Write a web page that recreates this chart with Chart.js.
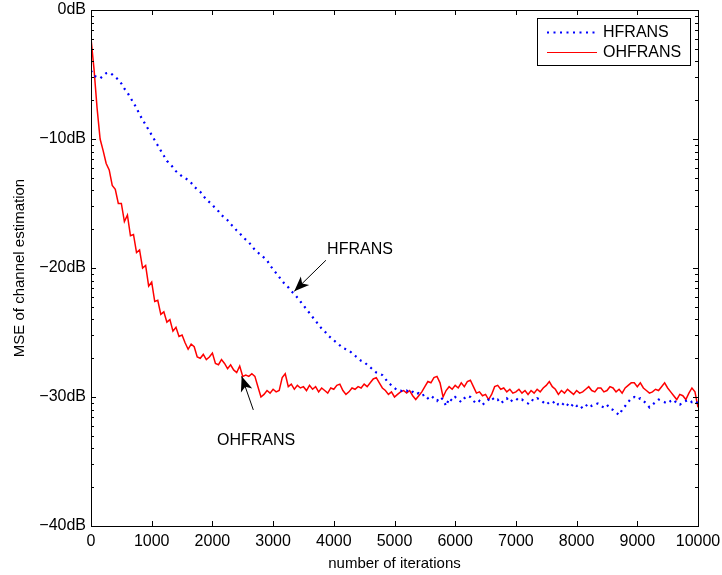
<!DOCTYPE html>
<html>
<head>
<meta charset="utf-8">
<script src="https://cdn.jsdelivr.net/npm/chart.js@4.4.0/dist/chart.umd.min.js"></script>
<style>
  html, body { margin: 0; padding: 0; background: #fff; }
  #wrap { width: 722px; height: 575px; }
</style>
</head>
<body>
<div id="wrap"><canvas id="myChart" width="722" height="575"></canvas></div>
<script>
// iterations (step 50), both curves share them
const iteracoes = [];
for (let i = 0; i <= 10000; i += 50) iteracoes.push(i);

// MSE in dB
const hfrans = [
  -4.7, -5.1, -5.2, -5.3, -5.1, -4.9, -4.85, -5.0, -5.2, -5.4,
  -5.7, -6.1, -6.4, -6.8, -7.2, -7.6, -8.1, -8.5, -8.9, -9.3,
  -9.7, -10.1, -10.5, -10.9, -11.3, -11.7, -11.9, -12.2, -12.5, -12.7,
  -12.9, -13.0, -13.2, -13.4, -13.7, -13.9, -14.1, -14.4, -14.7, -14.9,
  -15.1, -15.4, -15.6, -15.9, -16.1, -16.3, -16.6, -16.8, -17.1, -17.3,
  -17.6, -17.8, -18.0, -18.3, -18.6, -18.8, -19.0, -19.2, -19.4, -19.8,
  -20.1, -20.4, -20.7, -21.0, -21.3, -21.5, -21.8, -22.0, -22.3, -22.6,
  -22.9, -23.2, -23.5, -23.8, -24.1, -24.4, -24.7, -24.9, -25.2, -25.4,
  -25.6, -25.8, -26.0, -26.2, -26.3, -26.4, -26.6, -26.8, -27.0, -27.2,
  -27.3, -27.5, -27.7, -27.9, -28.1, -28.2, -28.3, -28.6, -28.9, -29.1,
  -29.3, -29.5, -29.5, -29.6, -29.5, -29.7, -29.6, -29.8, -29.7, -29.9,
  -29.8, -30.1, -29.9, -30.1, -30.3, -30.0, -30.2, -30.7, -30.1, -30.3,
  -30.0, -30.2, -30.4, -30.1, -29.9, -30.0, -30.3, -30.5, -30.3, -30.6,
  -30.4, -30.2, -30.0, -30.3, -30.2, -30.5, -30.3, -30.1, -30.4, -30.2,
  -30.1, -30.3, -30.2, -30.4, -30.5, -30.2, -30.3, -30.1, -30.2, -30.4,
  -30.6, -30.4, -30.5, -30.3, -30.6, -30.7, -30.4, -30.6, -30.8, -30.5,
  -30.7, -30.6, -30.9, -30.7, -30.5, -30.7, -30.6, -30.5, -30.7, -30.8,
  -30.6, -30.9, -31.0, -31.2, -31.4, -31.0, -30.7, -30.4, -30.1, -30.0,
  -30.2, -30.1, -30.3, -30.5, -30.8, -30.6, -30.4, -30.2, -30.3, -30.4,
  -30.5, -30.3, -30.2, -30.5, -30.6, -30.4, -30.3, -30.2, -30.4, -30.3,
  -30.5
];

const ohfrans = [
  -2.2, -4.6, -7.6, -10.0, -10.9, -11.9, -12.4, -13.6, -13.9, -15.0,
  -15.0, -16.4, -15.9, -17.5, -17.4, -18.8, -18.6, -20.0, -19.8, -21.4,
  -21.1, -22.6, -22.5, -23.6, -23.4, -24.2, -24.0, -24.9, -24.6, -25.3,
  -25.2, -25.8, -26.3, -25.9, -26.1, -26.9, -27.0, -26.7, -27.1, -26.9,
  -26.6, -27.4, -27.5, -27.1, -27.4, -27.8, -27.5, -27.9, -28.1, -27.6,
  -28.4, -28.3, -28.4, -28.2, -28.4, -29.2, -30.0, -29.8, -29.5, -29.7,
  -29.4, -29.6, -29.5, -28.5, -28.2, -29.2, -29.0, -29.4, -29.1, -29.3,
  -29.2, -29.5, -29.1, -29.4, -29.2, -29.6, -29.3, -29.5, -29.7, -29.3,
  -29.4, -29.1, -29.0, -29.5, -29.8, -29.6, -29.3, -29.4, -29.2, -29.3,
  -29.0, -29.2, -28.9, -28.6, -28.5, -28.9, -29.3, -29.5, -29.8, -29.6,
  -30.0, -29.8, -29.6, -29.5, -29.7, -29.5, -29.9, -30.2, -29.9, -29.6,
  -29.2, -28.8, -28.9, -28.5, -28.4, -28.9, -30.0, -29.5, -29.2, -29.4,
  -29.1, -29.3, -28.9, -29.2, -28.8, -28.7, -29.2, -29.7, -29.6, -29.9,
  -29.8, -30.2, -29.8, -29.2, -29.1, -29.4, -29.3, -29.6, -29.4, -29.7,
  -29.6, -29.4, -29.7, -29.5, -29.8, -29.5, -29.7, -29.4, -29.6, -29.3,
  -29.1, -28.8, -29.2, -29.4, -29.8, -29.5, -29.7, -29.4, -29.6, -29.8,
  -29.5, -29.7, -29.6, -29.4, -29.2, -29.5, -29.6, -29.3, -29.3, -29.6,
  -29.5, -29.2, -29.3, -29.6, -29.4, -29.7, -29.3, -29.1, -28.9, -28.9,
  -29.2, -28.9, -29.3, -29.5, -29.7, -29.6, -29.4, -29.5, -29.2, -28.9,
  -29.3, -29.6, -29.9, -30.2, -29.8, -29.9, -30.2, -29.7, -29.3, -29.6,
  -30.8
];

const rotulosSeries = ['HFRANS', 'OHFRANS'];
const ticksY = [-40, -30, -20, -10, 0];
const ticksX = [0, 1000, 2000, 3000, 4000, 5000, 6000, 7000, 8000, 9000, 10000];

// annotations: [text, text x, text y, arrow tail x, tail y, tip x, tip y] in data units
const anotacoes = [
  ['HFRANS', 3890, -18.6, 3870, -19.4, 3349, -21.8],
  ['OHFRANS', 2076, -33.4, 2674, -31.0, 2482, -28.4]
];

const fonte = '"Liberation Sans", Arial, Helvetica, sans-serif';

let montaPontos = (ys) => iteracoes.map((x, i) => ({ x: x, y: ys[i] }));

// box, inward ticks, legend and arrows in MATLAB style
const pluginMatlab = {
  id: 'matlab',
  afterDraw(chart) {
    const ctx = chart.ctx;
    const a = chart.chartArea;
    const sx = chart.scales.x;
    const sy = chart.scales.y;
    ctx.save();
    ctx.strokeStyle = '#000';
    ctx.lineWidth = 1;
    ctx.strokeRect(Math.round(a.left) + 0.5, Math.round(a.top) + 0.5,
      Math.round(a.right - a.left), Math.round(a.bottom - a.top));

    ctx.beginPath();
    ticksX.forEach(v => {
      const px = Math.round(sx.getPixelForValue(v)) + 0.5;
      ctx.moveTo(px, a.bottom); ctx.lineTo(px, a.bottom - 5);
      ctx.moveTo(px, a.top); ctx.lineTo(px, a.top + 5);
    });
    ticksY.forEach(v => {
      const py = Math.round(sy.getPixelForValue(v)) + 0.5;
      ctx.moveTo(a.left, py); ctx.lineTo(a.left + 5, py);
      ctx.moveTo(a.right, py); ctx.lineTo(a.right - 5, py);
    });
    // minor ticks of the log axis (dB)
    for (let base = -40; base < 0; base += 10) {
      for (let k = 2; k <= 9; k++) {
        const py = Math.round(sy.getPixelForValue(base + 10 * Math.log10(k))) + 0.5;
        ctx.moveTo(a.left, py); ctx.lineTo(a.left + 3, py);
        ctx.moveTo(a.right, py); ctx.lineTo(a.right - 3, py);
      }
    }
    ctx.stroke();

    // arrows + texts
    ctx.font = '16px ' + fonte;
    ctx.fillStyle = '#000';
    ctx.textBaseline = 'middle';
    ctx.textAlign = 'left';
    anotacoes.forEach(an => {
      const tx = sx.getPixelForValue(an[1]), ty = sy.getPixelForValue(an[2]);
      const x0 = sx.getPixelForValue(an[3]), y0 = sy.getPixelForValue(an[4]);
      const x1 = sx.getPixelForValue(an[5]), y1 = sy.getPixelForValue(an[6]);
      ctx.fillText(an[0], tx, ty);
      ctx.beginPath();
      ctx.moveTo(x0, y0); ctx.lineTo(x1, y1);
      ctx.stroke();
      const ang = Math.atan2(y1 - y0, x1 - x0);
      const L = 15, W = 6, N = 11;
      const ca = Math.cos(ang), sa = Math.sin(ang);
      ctx.beginPath();
      ctx.moveTo(x1, y1);
      ctx.lineTo(x1 - L * ca + W * sa, y1 - L * sa - W * ca);
      ctx.lineTo(x1 - N * ca, y1 - N * sa);
      ctx.lineTo(x1 - L * ca - W * sa, y1 - L * sa + W * ca);
      ctx.closePath();
      ctx.fill();
    });

    // legend
    const lx = Math.round(a.right) - 161, ly = Math.round(a.top) + 8;
    ctx.fillStyle = '#fff';
    ctx.fillRect(lx, ly, 153, 47);
    ctx.strokeRect(lx + 0.5, ly + 0.5, 153, 47);
    chart.data.datasets.forEach((ds, i) => {
      const yy = ly + 14 + i * 20;
      ctx.save();
      ctx.strokeStyle = ds.borderColor;
      ctx.lineWidth = i === 0 ? 2 : 1;
      ctx.setLineDash(ds.borderDash || []);
      ctx.beginPath();
      ctx.moveTo(lx + 10, yy + 0.5); ctx.lineTo(lx + 60, yy + 0.5);
      ctx.stroke();
      ctx.restore();
      ctx.fillStyle = '#000';
      ctx.fillText(ds.label, lx + 66, yy + 1);
    });
    ctx.restore();
  }
};

const ctx = document.getElementById('myChart');

new Chart(ctx, {
  type: 'line',
  data: {
    datasets: [{
      label: rotulosSeries[0],
      data: montaPontos(hfrans),
      borderColor: 'rgb(0,0,255)',
      borderWidth: 2.2,
      borderDash: [2, 4.5],
      pointRadius: 0,
      fill: false
    }, {
      label: rotulosSeries[1],
      data: montaPontos(ohfrans),
      borderColor: 'rgb(255,0,0)',
      borderWidth: 1.5,
      pointRadius: 0,
      fill: false
    }]
  },
  options: {
    responsive: false,
    animation: false,
    layout: { padding: { top: 10, right: 24, left: 0, bottom: 0 } },
    plugins: { legend: { display: false }, tooltip: { enabled: false } },
    scales: {
      x: {
        type: 'linear',
        min: 0, max: 10000,
        afterBuildTicks: s => { s.ticks = ticksX.map(v => ({ value: v })); },
        afterFit: s => { s.height = 49; s.paddingLeft = 0; s.paddingRight = 0; },
        grid: { display: false, drawTicks: false },
        border: { display: false },
        ticks: {
          autoSkip: false, maxRotation: 0, padding: 6,
          color: '#000', font: { family: fonte, size: 16 },
          callback: v => String(v)
        },
        title: {
          display: true, text: 'number of iterations', color: '#000',
          font: { family: fonte, size: 15 }, padding: { top: 0, bottom: 2 }
        }
      },
      y: {
        type: 'linear',
        min: -40, max: 0,
        afterBuildTicks: s => { s.ticks = ticksY.map(v => ({ value: v })); },
        afterFit: s => { s.width = 91; s.paddingTop = 0; s.paddingBottom = 0; },
        grid: { display: false, drawTicks: false },
        border: { display: false },
        ticks: {
          padding: 5, color: '#000', font: { family: fonte, size: 16 },
          callback: v => (v === 0 ? '0' : '\u2212' + Math.abs(v)) + 'dB'
        },
        title: {
          display: true, text: 'MSE of channel estimation', color: '#000',
          font: { family: fonte, size: 15 }, padding: { top: 11, bottom: 0 }
        }
      }
    }
  },
  plugins: [pluginMatlab]
});
</script>
</body>
</html>
